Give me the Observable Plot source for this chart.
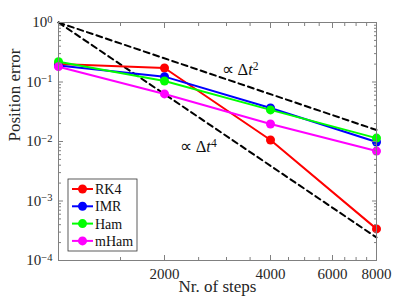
<!DOCTYPE html>
<html><head><meta charset="utf-8">
<script src="https://cdn.jsdelivr.net/npm/d3@7"></script>
<script src="https://cdn.jsdelivr.net/npm/@observablehq/plot@0.6"></script>
<style>body{margin:0;background:#fff}#chart{width:415px;height:306px}#chart svg text{font-family:"Liberation Serif","Times New Roman",serif}</style>
</head><body><div id="chart"></div>
<script>
const steps = [1000, 2000, 4000, 8000];
const rk4 = [0.20, 0.172, 0.0106, 0.00034];
const imr = [0.19, 0.123, 0.0366, 0.0098];
const ham = [0.219, 0.104, 0.034, 0.0114];
const mham = [0.181, 0.063, 0.0197, 0.0069];
const seriesNames = ["RK4", "IMR", "Ham", "mHam"];
const seriesColors = ["#ff0000", "#0000ff", "#00ff00", "#ff00ff"];
const refSteps = [1000, 8000];
const ref2 = [1, 0.0156];
const ref4 = [1, 0.000244];
const refLabels = ["∝ Δt|2", "∝ Δt|4"];
const refLabelX = [2920, 2220];
const refLabelY = [0.16, 0.0081];
const xMajor = [2000, 4000, 6000, 8000];
const xMinor = [1500, 2500, 3000, 3500, 4500, 5000, 5500, 6500, 7000, 7500];
const yMajor = [1e-4, 1e-3, 1e-2, 1e-1, 1];
const minorMult = [2, 3, 4, 5, 6, 7, 8, 9];
const xLabel = "Nr. of steps";
const yLabel = "Position error";

const yMinor = yMajor.slice(0, -1).flatMap(d => minorMult.map(m => d * m));
const allSeries = [rk4, imr, ham, mham];
const rows = allSeries.flatMap((vals, i) => vals.map((v, j) => ({series: seriesNames[i], x: steps[j], y: v})));
const refRows = [ref2, ref4].flatMap((vals, i) => vals.map((v, j) => ({ref: i, x: refSteps[j], y: v})));
const refText = refLabels.map((t, i) => ({t, x: refLabelX[i], y: refLabelY[i]}));

const axisColor = "#808080";
const blank = () => "";
const tickAxesX = ["bottom", "top"].flatMap(a => [
  Plot.axisX({anchor: a, ticks: xMajor, tickSize: -5, tickFormat: blank, stroke: axisColor, label: null}),
  Plot.axisX({anchor: a, ticks: xMinor, tickSize: -3, tickFormat: blank, stroke: axisColor, label: null})
]);
const tickAxesY = ["left", "right"].flatMap(a => [
  Plot.axisY({anchor: a, ticks: yMajor, tickSize: -5, tickFormat: blank, stroke: axisColor, label: null}),
  Plot.axisY({anchor: a, ticks: yMinor, tickSize: -3, tickFormat: blank, stroke: axisColor, label: null})
]);

const chart = Plot.plot({
  width: 415, height: 306,
  marginLeft: 58, marginRight: 39, marginTop: 22, marginBottom: 46,
  style: {fontSize: "15px", color: "#262626", background: "#fff", fontFamily: "Liberation Serif, serif"},
  x: {type: "log", domain: [1000, 8000], axis: null},
  y: {type: "log", domain: [1e-4, 1], axis: null},
  color: {domain: seriesNames, range: seriesColors},
  marks: [
    Plot.line(refRows, {x: "x", y: "y", z: "ref", stroke: "black", strokeWidth: 2, strokeDasharray: "6,4"}),
    Plot.line(rows, {x: "x", y: "y", z: "series", stroke: "series", strokeWidth: 2}),
    Plot.dot(rows, {x: "x", y: "y", fill: "series", r: 4.5}),
    Plot.frame({stroke: axisColor}),
    ...tickAxesX, ...tickAxesY,
    Plot.axisX({anchor: "bottom", ticks: xMajor, tickSize: 0, tickPadding: 8, tickFormat: d => String(d), fill: "#262626", label: null}),
    Plot.axisY({anchor: "left", ticks: yMajor, tickSize: 0, tickPadding: 6, tickFormat: d => "10|" + Math.round(Math.log10(d)), fill: "#262626", label: null}),
    Plot.text(refText, {x: "x", y: "y", text: "t", textAnchor: "start", fontSize: 16.5, fill: "#111"}),
    Plot.text([xLabel], {frameAnchor: "bottom", dy: 31, text: d => d, fontSize: 17, fill: "#262626"}),
    Plot.text([yLabel], {frameAnchor: "left", dx: -44, rotate: -90, text: d => d, fontSize: 17, fill: "#262626"})
  ]
});

// superscripts
d3.select(chart).selectAll("text").each(function() {
  const s = this.textContent;
  if (!s.includes("|")) return;
  const [base, sup] = s.split("|");
  const el = d3.select(this);
  el.text(null);
  if (base.startsWith("∝")) {
    el.append("tspan").text("∝ Δ");
    el.append("tspan").attr("font-style", "italic").text("t");
  } else {
    el.append("tspan").text(base);
  }
  el.append("tspan").attr("dy", "-0.45em").attr("font-size", "70%").text(sup.replace("-", "−"));
});

// legend
const svg = d3.select(chart);
const lg = svg.append("g").attr("font-size", 14).attr("text-anchor", "start");
lg.append("rect").attr("x", 68).attr("y", 179).attr("width", 69).attr("height", 72)
  .attr("fill", "white").attr("stroke", "#333").attr("stroke-width", 0.8);
seriesNames.forEach((name, i) => {
  const cy = 189 + i * 17.3;
  lg.append("line").attr("x1", 72).attr("x2", 93).attr("y1", cy).attr("y2", cy)
    .attr("stroke", seriesColors[i]).attr("stroke-width", 2);
  lg.append("circle").attr("cx", 82.5).attr("cy", cy).attr("r", 4.5).attr("fill", seriesColors[i]);
  lg.append("text").attr("x", 95).attr("y", cy).attr("dy", "0.35em").attr("fill", "#111").attr("text-anchor", "start").text(name);
});

document.getElementById("chart").append(chart);
</script></body></html>
